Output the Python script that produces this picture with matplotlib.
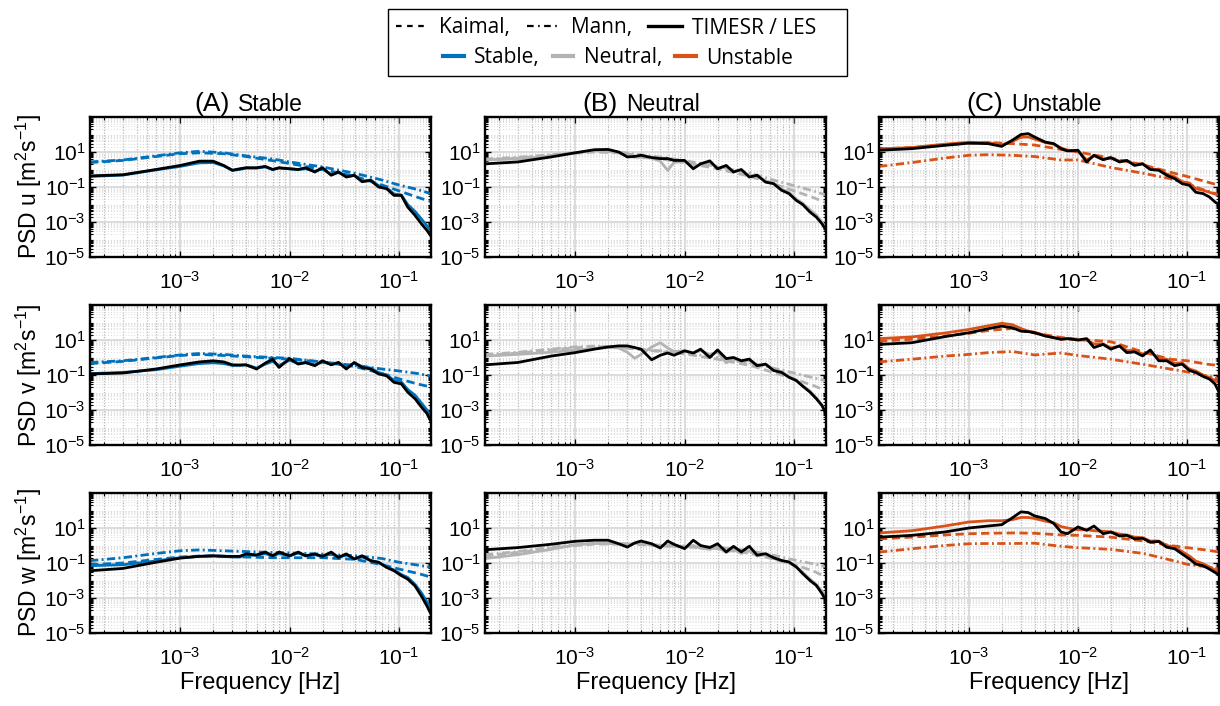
import matplotlib
matplotlib.use("Agg")
import matplotlib.pyplot as plt
from matplotlib.lines import Line2D
from matplotlib.patches import Rectangle
from matplotlib.ticker import FixedLocator, LogLocator, NullFormatter, LogFormatterMathtext

plt.rcParams["font.family"] = ["Liberation Sans", "DejaVu Sans"]
plt.rcParams["mathtext.fontset"] = "custom"
plt.rcParams["mathtext.rm"] = "Liberation Sans"
plt.rcParams["mathtext.it"] = "Liberation Sans:italic"
plt.rcParams["mathtext.default"] = "regular"

# frequency grids [Hz]
freq_model = [1.5e-4, 3e-4, 6e-4, 1e-3, 1.5e-3, 2.5e-3, 4e-3, 7e-3, 1e-2, 2e-2, 4e-2, 7e-2, 0.1, 0.15, 0.2]
freq_les = [1.5e-4, 3e-4, 6e-4, 1e-3, 1.5e-3, 2e-3, 2.5e-3, 3e-3, 3.5e-3, 4e-3, 5e-3, 6e-3, 7e-3, 8e-3,
            1e-2, 1.2e-2, 1.4e-2, 1.7e-2, 2e-2, 2.4e-2, 2.8e-2, 3.3e-2, 3.9e-2, 4.6e-2, 5.5e-2, 6.5e-2,
            7.7e-2, 9e-2, 0.105, 0.12, 0.14, 0.16, 0.18, 0.2]

# ---- u component ----
kaimal_stable_u = [2.5, 3.3, 5.5, 8, 9, 8, 5.5, 3.2, 2.2, 1.0, 0.4, 0.13, 0.06, 0.025, 0.014]
mann_stable_u = [2.7, 3.5, 6, 9, 11, 9, 6, 4, 2.7, 1.4, 0.6, 0.25, 0.13, 0.07, 0.04]
timesr_stable_u = [0.4, 0.48, 0.95, 1.5, 2.4, 2.5, 1.6, 0.9, 1.0, 1.2, 1.2, 1.4, 1.0, 1.2, 1.1, 1.0, 1.1, 0.8,
                   1.1, 0.5, 0.7, 0.4, 0.45, 0.22, 0.25, 0.12, 0.09, 0.04, 0.035, 0.01, 0.004, 0.0015, 6e-4, 2.5e-4]
les_stable_u = [0.43, 0.5, 1.0, 1.7, 3.0, 3.0, 1.7, 0.9, 1.1, 1.26, 1.26, 1.5, 1.0, 1.26, 1.1, 1.0, 1.26, 0.72,
                1.26, 0.47, 0.72, 0.37, 0.47, 0.2, 0.24, 0.1, 0.08, 0.033, 0.033, 0.0072, 0.0024, 8e-4, 3.3e-4, 1.3e-4]

kaimal_neutral_u = [3.5, 4.5, 6.5, 8.5, 10, 9, 6, 3.5, 2.5, 1.1, 0.4, 0.13, 0.06, 0.025, 0.012]
mann_neutral_u = [4, 5, 7, 9, 11, 10, 7, 4.5, 3.2, 1.5, 0.6, 0.22, 0.12, 0.06, 0.033]
timesr_neutral_u = [3.6, 4, 6, 9, 12, 12, 9, 6, 5, 5, 4.5, 3.0, 0.9, 2.5, 3.0, 1.3, 2.0, 2.6, 1.2, 1.5, 0.8,
                    0.9, 0.45, 0.45, 0.22, 0.17, 0.075, 0.05, 0.02, 0.012, 0.005, 0.0025, 0.001, 4e-4]
les_neutral_u = [2.1, 2.7, 5.2, 9, 13.5, 14, 10, 5.2, 5.6, 6.5, 4.8, 4.2, 4.2, 3.3, 3.3, 1.1, 2.1, 3.1, 1.1, 1.7,
                 0.72, 1.0, 0.37, 0.47, 0.19, 0.155, 0.065, 0.042, 0.017, 0.01, 0.0037, 0.0019, 8e-4, 2.7e-4]

kaimal_unstable_u = [15, 18, 26, 32, 35, 30, 25, 14, 10, 4.5, 1.8, 0.7, 0.4, 0.2, 0.12]
mann_unstable_u = [1.5, 2.5, 4.5, 6.5, 7, 6.5, 5.5, 3.5, 3.5, 1.3, 0.6, 0.3, 0.15, 0.06, 0.035]
timesr_unstable_u = [15, 18, 28, 36, 34, 26, 40, 70, 72, 55, 35, 28, 17, 13, 11, 3.5, 6, 4, 4.5, 3, 3.2, 1.9,
                     2.2, 1.1, 1.0, 0.55, 0.38, 0.2, 0.17, 0.08, 0.065, 0.05, 0.04, 0.033]
les_unstable_u = [12.6, 15.5, 24, 32, 30, 21, 47, 100, 112, 72, 37, 30, 15.5, 11.5, 12.6, 2.7, 6.5, 3.6, 4.8,
                  2.7, 3.3, 1.7, 2.1, 1.0, 0.9, 0.47, 0.3, 0.155, 0.125, 0.05, 0.042, 0.027, 0.014, 0.009]

# ---- v component ----
kaimal_stable_v = [0.45, 0.6, 0.95, 1.3, 1.5, 1.3, 1.1, 0.9, 0.8, 0.55, 0.3, 0.12, 0.06, 0.03, 0.02]
mann_stable_v = [0.52, 0.65, 1.0, 1.4, 1.7, 1.5, 1.2, 1.0, 0.9, 0.55, 0.35, 0.22, 0.17, 0.12, 0.085]
timesr_stable_v = [0.12, 0.14, 0.2, 0.32, 0.45, 0.5, 0.45, 0.35, 0.36, 0.38, 0.25, 0.42, 0.6, 0.35, 0.7, 0.45,
                   0.5, 0.38, 0.55, 0.42, 0.5, 0.28, 0.48, 0.3, 0.25, 0.14, 0.1, 0.05, 0.04, 0.015, 0.007,
                   0.0025, 0.001, 3.5e-4]
les_stable_v = [0.115, 0.13, 0.22, 0.38, 0.56, 0.65, 0.56, 0.38, 0.37, 0.38, 0.22, 0.48, 0.8, 0.27, 0.87, 0.42,
                0.52, 0.34, 0.65, 0.38, 0.52, 0.22, 0.52, 0.27, 0.22, 0.115, 0.09, 0.038, 0.031, 0.0105,
                0.0044, 0.0015, 6.3e-4, 1.7e-4]

kaimal_neutral_v = [1.3, 1.8, 2.7, 3.6, 4.2, 3.8, 2.8, 2.0, 1.6, 0.8, 0.35, 0.12, 0.06, 0.025, 0.012]
mann_neutral_v = [1.5, 2, 3, 4, 4.5, 4, 3, 2.2, 1.8, 1.0, 0.5, 0.22, 0.13, 0.07, 0.045]
timesr_neutral_v = [1.2, 1.5, 2.0, 2.6, 3.3, 3.8, 3.5, 2.0, 0.9, 1.5, 4.0, 7.0, 3.5, 2.2, 2.4, 1.8, 2.5, 1.5,
                    2.0, 0.5, 0.9, 0.5, 0.7, 0.3, 0.4, 0.2, 0.16, 0.08, 0.05, 0.025, 0.012, 0.005, 0.002, 6e-4]
les_neutral_v = [0.38, 0.52, 1.2, 1.9, 3.0, 4.0, 4.6, 4.6, 3.7, 3.0, 0.74, 1.35, 1.8, 1.35, 2.4, 1.8, 3.0, 1.0,
                 2.7, 0.87, 1.0, 0.65, 0.81, 0.34, 0.42, 0.18, 0.14, 0.074, 0.048, 0.023, 0.0105, 0.0044,
                 0.0018, 5e-4]

kaimal_unstable_v = [8.5, 11, 17, 24, 35, 45, 25, 14, 11, 8, 2.0, 0.8, 0.65, 0.42, 0.34]
mann_unstable_v = [0.56, 0.8, 1.2, 1.5, 1.9, 2.2, 1.4, 1.8, 1.3, 0.8, 0.4, 0.22, 0.15, 0.09, 0.06]
timesr_unstable_v = [12, 15, 25, 40, 65, 90, 75, 45, 32, 28, 18, 14, 11, 12, 10, 10, 6, 6, 3.5, 4.5, 2.5, 2.5,
                     1.6, 2.0, 0.9, 0.8, 0.45, 0.5, 0.22, 0.17, 0.1, 0.07, 0.05, 0.035]
les_unstable_v = [5.6, 7, 15.5, 26, 44, 62, 50, 32, 30, 26, 17, 13.5, 11, 12, 10, 12, 3.7, 5.6, 3.0, 4.6, 1.9,
                  2.1, 1.23, 2.7, 0.65, 0.65, 0.34, 0.42, 0.18, 0.14, 0.083, 0.059, 0.031, 0.008]

# ---- w component ----
kaimal_stable_w = [0.08, 0.1, 0.16, 0.22, 0.25, 0.25, 0.22, 0.2, 0.2, 0.2, 0.16, 0.08, 0.045, 0.025, 0.015]
mann_stable_w = [0.135, 0.2, 0.35, 0.5, 0.56, 0.5, 0.45, 0.4, 0.38, 0.32, 0.26, 0.18, 0.11, 0.075, 0.056]
timesr_stable_w = [0.07, 0.08, 0.13, 0.2, 0.24, 0.25, 0.24, 0.22, 0.22, 0.28, 0.27, 0.35, 0.25, 0.35, 0.25,
                   0.38, 0.25, 0.3, 0.22, 0.35, 0.2, 0.3, 0.17, 0.22, 0.14, 0.11, 0.06, 0.04, 0.022, 0.015,
                   0.006, 0.002, 6e-4, 2e-4]
les_stable_w = [0.036, 0.049, 0.11, 0.19, 0.24, 0.26, 0.24, 0.24, 0.24, 0.33, 0.29, 0.42, 0.26, 0.42, 0.26,
                0.42, 0.26, 0.33, 0.24, 0.42, 0.21, 0.33, 0.17, 0.26, 0.135, 0.11, 0.056, 0.036, 0.019, 0.012,
                0.0049, 0.0013, 3.5e-4, 9e-5]

kaimal_neutral_w = [0.25, 0.4, 0.7, 1.0, 1.2, 1.2, 1.1, 0.9, 0.85, 0.65, 0.35, 0.15, 0.08, 0.035, 0.015]
mann_neutral_w = [0.3, 0.45, 0.8, 1.1, 1.3, 1.3, 1.2, 1.0, 0.95, 0.8, 0.5, 0.25, 0.15, 0.09, 0.06]
timesr_neutral_w = [0.18, 0.3, 0.6, 1.1, 1.3, 1.3, 1.2, 1.2, 1.3, 1.3, 1.1, 0.9, 1.1, 0.9, 0.8, 1.0, 0.7, 0.6,
                    0.8, 0.4, 0.6, 0.35, 0.5, 0.25, 0.3, 0.18, 0.13, 0.1, 0.06, 0.03, 0.012, 0.006, 0.0025, 8e-4]
les_neutral_w = [0.57, 0.76, 1.17, 1.74, 2.0, 2.0, 1.26, 0.81, 1.4, 1.8, 1.26, 0.72, 1.8, 1.17, 0.66, 2.0, 1.0,
                 0.76, 1.26, 0.43, 0.9, 0.43, 0.9, 0.28, 0.34, 0.2, 0.14, 0.115, 0.059, 0.025, 0.01, 0.0052,
                 0.0018, 5.9e-4]

kaimal_unstable_w = [2.4, 3.0, 4.0, 4.7, 5.0, 5.2, 5.0, 4.0, 3.8, 3.0, 1.8, 1.0, 0.75, 0.55, 0.42]
mann_unstable_w = [0.42, 0.65, 1.0, 1.26, 1.3, 1.3, 1.35, 0.9, 0.75, 0.6, 0.35, 0.15, 0.085, 0.06, 0.045]
timesr_unstable_w = [5.2, 7, 13, 22, 26, 26, 30, 40, 40, 35, 25, 20, 12, 10, 8, 8, 7, 6.5, 6, 4.5, 4.0, 3.0,
                     2.8, 1.8, 1.8, 1.0, 0.8, 0.45, 0.25, 0.13, 0.09, 0.06, 0.04, 0.025]
les_unstable_w = [3.0, 3.8, 5.9, 10, 13, 15.5, 38, 84, 76, 49, 35, 18, 5.9, 4.7, 11.5, 7.4, 13, 4.7, 5.9, 3.5,
                  3.8, 2.4, 2.6, 1.55, 1.7, 0.8, 0.65, 0.33, 0.17, 0.087, 0.07, 0.045, 0.029, 0.019]

components = ["u", "v", "w"]
stabilities = ["Stable", "Neutral", "Unstable"]
panel_letters = ["(A)", "(B)", "(C)"]
colors = {"Stable": "#0072BD", "Neutral": "#B3B3B3", "Unstable": "#D95319"}

spectra = {
    ("u", "Stable"): (kaimal_stable_u, mann_stable_u, timesr_stable_u, les_stable_u),
    ("u", "Neutral"): (kaimal_neutral_u, mann_neutral_u, timesr_neutral_u, les_neutral_u),
    ("u", "Unstable"): (kaimal_unstable_u, mann_unstable_u, timesr_unstable_u, les_unstable_u),
    ("v", "Stable"): (kaimal_stable_v, mann_stable_v, timesr_stable_v, les_stable_v),
    ("v", "Neutral"): (kaimal_neutral_v, mann_neutral_v, timesr_neutral_v, les_neutral_v),
    ("v", "Unstable"): (kaimal_unstable_v, mann_unstable_v, timesr_unstable_v, les_unstable_v),
    ("w", "Stable"): (kaimal_stable_w, mann_stable_w, timesr_stable_w, les_stable_w),
    ("w", "Neutral"): (kaimal_neutral_w, mann_neutral_w, timesr_neutral_w, les_neutral_w),
    ("w", "Unstable"): (kaimal_unstable_w, mann_unstable_w, timesr_unstable_w, les_unstable_w),
}

DASHED = (0, (3.0, 1.6))
DASHDOT = (0, (3.0, 1.2, 0.7, 1.2))
LW = 2.0

W, H = 1220, 706
fig = plt.figure(figsize=(W / 100, H / 100), dpi=100)

col_left = [90, 485, 879]
col_width = [341, 341, 340]
row_top = [117, 305, 493]
ax_h = 140
title_right = [0.41, 0.39, 0.365]

for r, comp in enumerate(components):
    for c, stab in enumerate(stabilities):
        ax = fig.add_axes([col_left[c] / W, 1 - (row_top[r] + ax_h) / H, col_width[c] / W, ax_h / H])
        kaimal, mann, timesr, les = spectra[(comp, stab)]
        col = colors[stab]
        ax.plot(freq_model, kaimal, color=col, lw=LW, ls=DASHED)
        ax.plot(freq_model, mann, color=col, lw=LW, ls=DASHDOT)
        ax.plot(freq_les, timesr, color=col, lw=LW)
        ax.plot(freq_les, les, color="black", lw=LW)

        ax.set_xscale("log")
        ax.set_yscale("log")
        ax.set_xlim(1.5e-4, 0.196)
        ax.set_ylim(1e-5, 1e3)
        ax.yaxis.set_major_locator(FixedLocator([1e-5, 1e-3, 1e-1, 1e1]))
        ax.yaxis.set_major_formatter(LogFormatterMathtext())
        ax.yaxis.set_minor_locator(LogLocator(base=10, subs=range(1, 10), numticks=100))
        ax.yaxis.set_minor_formatter(NullFormatter())
        ax.xaxis.set_major_locator(FixedLocator([1e-3, 1e-2, 1e-1]))
        ax.xaxis.set_major_formatter(LogFormatterMathtext())
        ax.xaxis.set_minor_locator(LogLocator(base=10, subs=range(1, 10), numticks=100))
        ax.xaxis.set_minor_formatter(NullFormatter())

        ax.set_axisbelow(True)
        ax.grid(True, which="major", color="0.85", lw=1.3, ls="-")
        ax.xaxis.grid(True, which="minor", color="0.72", lw=0.9, ls=(0, (1, 1.2)))
        ax.yaxis.grid(True, which="minor", color="0.86", lw=0.7, ls=(0, (1, 2)))
        ax.tick_params(which="both", direction="in", top=True, right=True, labelsize=15)
        ax.tick_params(which="major", length=4, width=1.0)
        ax.tick_params(which="minor", length=2, width=0.8)
        ax.tick_params(axis="x", which="major", pad=10)
        ax.tick_params(axis="y", which="major", pad=3)
        for sp in ax.spines.values():
            sp.set_linewidth(1.7)

        if c == 0:
            ax.set_ylabel("PSD %s [m$^2$s$^{-1}$]" % comp, fontsize=16.5, labelpad=0)
        if r == 2:
            ax.set_xlabel("Frequency [Hz]", fontsize=17, labelpad=2)
        if r == 0:
            ax.text(title_right[c], 1.04, panel_letters[c], transform=ax.transAxes,
                    ha="right", va="baseline", fontsize=19)
            ax.text(title_right[c] + 0.025, 1.04, stab, transform=ax.transAxes,
                    ha="left", va="baseline", fontsize=16.5)

# legend
fig.patches.append(Rectangle((388 / W, 1 - 76 / H), (847 - 388) / W, (76 - 9) / H,
                             transform=fig.transFigure, fill=False, ec="black", lw=1.0))
style_handles = [Line2D([], [], color="black", lw=1.6, ls=(0, (2.5, 2.5))),
                 Line2D([], [], color="black", lw=1.6, ls=(0, (3.0, 2.0, 0.7, 2.0))),
                 Line2D([], [], color="black", lw=2.4)]
fig.legend(style_handles, ["Kaimal,", "Mann,", "TIMESR / LES"], loc="center",
           bbox_to_anchor=(606 / W, 1 - 28 / H), ncol=3, frameon=False,
           prop={"family": "Open Sans", "size": 15}, handlelength=1.6,
           handletextpad=0.5, columnspacing=0.8, borderpad=0)
color_handles = [Line2D([], [], color=colors[s], lw=3) for s in stabilities]
fig.legend(color_handles, ["Stable,", "Neutral,", "Unstable"], loc="center",
           bbox_to_anchor=(618 / W, 1 - 58 / H), ncol=3, frameon=False,
           prop={"family": "Open Sans", "size": 15}, handlelength=1.0,
           handletextpad=0.5, columnspacing=0.6, borderpad=0)

fig.savefig("out.png", dpi=100)
